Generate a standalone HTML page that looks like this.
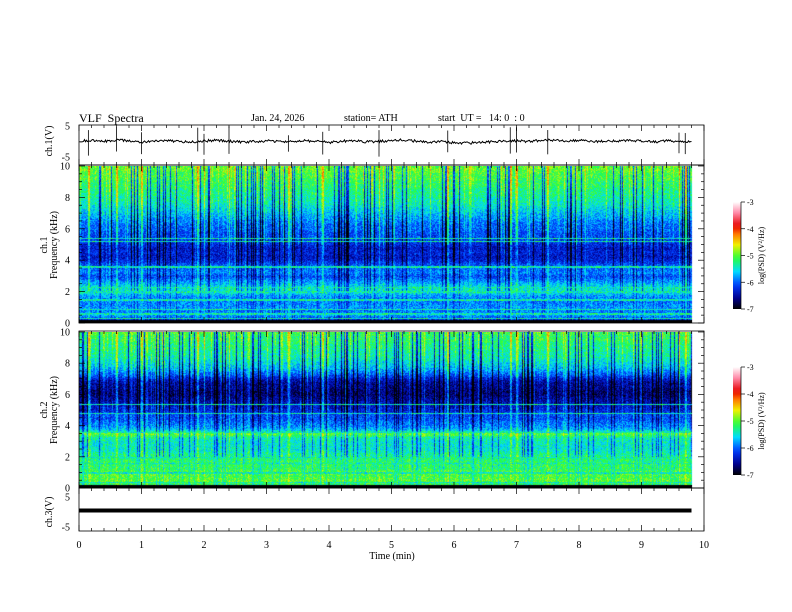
<!DOCTYPE html>
<html><head><meta charset="utf-8">
<style>
body{margin:0;background:#fff;width:792px;height:612px;overflow:hidden;position:relative;font-family:"Liberation Serif",serif;}
.t{position:absolute;font-size:10px;color:#000;white-space:nowrap;line-height:1;}
canvas{position:absolute;}
</style></head><body>
<div class="t" style="left:79px;top:112px;font-size:12px">VLF&nbsp; Spectra</div>
<div class="t" style="left:251px;top:114px">Jan. 24, 2026</div>
<div class="t" style="left:344px;top:114px">station= ATH</div>
<div class="t" style="left:438px;top:114px">start&nbsp; UT =&nbsp;&nbsp; 14: 0&nbsp;&nbsp;: 0</div>
<canvas id="spec1" width="626" height="157" style="left:79px;top:166px"></canvas>
<canvas id="spec2" width="626" height="156" style="left:79px;top:332px"></canvas>
<svg id="ov" width="792" height="612" style="position:absolute;left:0;top:0"></svg>
<script>
// ---- data ----
const timeTicks=[0,1,2,3,4,5,6,7,8,9,10];
const cbTicks=[-3,-4,-5,-6,-7];
const freqTicks=[0,2,4,6,8,10];
// mean log PSD by frequency (0..10 kHz, 0.25 kHz steps, 41 pts)
const profile1=[-7,-6.2,-5.8,-5.9,-5.8,-5.9,-5.9,-5.8,-5.5,-5.5,-5.7,-5.9,-6.1,-5.9,-6.0,-6.1,-6.3,-6.4,-6.3,-6.4,-6.3,-6.2,-6.1,-6.1,-6.0,-6.0,-5.9,-5.8,-5.7,-5.6,-5.5,-5.4,-5.4,-5.3,-5.3,-5.2,-5.2,-5.1,-5.1,-5.0,-5.0];
const profile2=[-7,-5.2,-5.0,-5.1,-5.0,-5.2,-5.2,-5.2,-5.3,-5.4,-5.5,-5.5,-5.5,-5.4,-5.0,-5.7,-5.9,-6.0,-6.1,-6.1,-6.3,-6.4,-6.5,-6.6,-6.7,-6.7,-6.6,-6.6,-6.4,-6.1,-5.9,-5.7,-5.6,-5.5,-5.4,-5.4,-5.3,-5.3,-5.2,-5.2,-5.1];
const lines1=[0.3,0.6,0.9,1.5,2.0,2.3,3.6,5.2,5.4];
const lines2=[0.4,1.0,1.6,2.0,3.6,4.8,5.4];
const sferics=[0.15,0.6,1.0,1.9,2.0,2.4,3.35,3.9,4.8,5.9,6.9,7.0,7.5,9.6,9.7];
const ch1Trace=[0.2,0.3,0.1,0.5,0.2,-0.2,0.1,0.3,0,-0.1,0.2,0.4,0.1,-0.2,0,0.2,-0.1,0.1,0.3,0,-0.3,0.1,0.2,-0.1,0,0.3,0.5,0.1,-0.2,0,-0.4,-0.5,-0.3,-0.1,0.1,0.2,0,0.3,0.5,0.2,0.4,0.1,0,0.2,0.3,0.1,-0.1,0.2,0.1,0];
const ch3Level=-1.5;
// ---- scales ----
const X0=79,X1=704,tEnd=9.8;
const xs=t=>X0+(X1-X0)*t/10;
function hash(a,b){let h=(a*374761393+b*668265263)|0;h=(h^(h>>>13))*1274126177|0;return ((h^(h>>>16))>>>0)/4294967295;}
function cmap(v){
  const stops=[[-7,0,0,0],[-6.6,0,0,140],[-6.1,0,60,255],[-5.6,0,220,255],[-5.1,40,255,60],[-4.6,240,240,0],[-4.2,255,120,0],[-3.9,230,0,0],[-3.4,255,140,170],[-3,255,255,255]];
  if(v<=-7)return[0,0,0];if(v>=-3)return[255,255,255];
  for(let i=1;i<stops.length;i++)if(v<=stops[i][0]){const a=stops[i-1],b=stops[i],f=(v-a[0])/(b[0]-a[0]);return[a[1]+f*(b[1]-a[1]),a[2]+f*(b[2]-a[2]),a[3]+f*(b[3]-a[3])];}
}
function drawSpec(id,prof,lines,seed){
  const c=document.getElementById(id),g=c.getContext('2d'),W=c.width,H=c.height;
  const img=g.createImageData(W,H);
  const colEff=[];
  for(let x=0;x<W;x++){const r=hash(x,seed);let e=0;if(r>0.75)e=0.5*hash(x,seed+7);else if(r<0.14)e=-1.0;
    const t=x/(X1-X0)*10;sferics.forEach(s=>{if(Math.abs(t-s)<0.015)e=0.7;});colEff.push(e);}
  for(let y=0;y<H;y++){const f=10*(1-y/H);const fi=f/0.25,i0=Math.min(39,Math.floor(fi)),fr=fi-i0;
    let base=prof[i0]*(1-fr)+prof[i0+1]*fr;
    let isLine=lines.some(l=>Math.abs(f-l)<0.04);
    const w=f>5?1:(f>2?0.6:0.3);
    for(let x=0;x<W;x++){const p=(y*W+x)*4;const t=x/(X1-X0)*10;
      if(t>tEnd){img.data[p+3]=0;continue;}
      let v=base+colEff[x]*w+(hash(x*3+y,y*7+seed)-0.5)*0.6;
      if(isLine)v=-5.4+(hash(x,y)-0.5)*0.8;
      if(f<0.25)v=-7;
      const col=cmap(v);img.data[p]=col[0];img.data[p+1]=col[1];img.data[p+2]=col[2];img.data[p+3]=255;}}
  g.putImageData(img,0,0);
}
drawSpec('spec1',profile1,lines1,11);
drawSpec('spec2',profile2,lines2,29);
// ---- svg overlay ----
const ns='http://www.w3.org/2000/svg',svg=document.getElementById('ov');
function el(tag,at,parent){const e=document.createElementNS(ns,tag);for(const k in at)e.setAttribute(k,at[k]);(parent||svg).appendChild(e);return e;}
function txt(x,y,s,at){const e=el('text',Object.assign({x:x,y:y,'font-family':'Liberation Serif, serif','font-size':10,fill:'#000'},at||{}));e.textContent=s;return e;}
[[125,165],[165,323],[331,488],[488,531]].forEach((b,i)=>{const r=el('rect',{x:X0,y:b[0],width:X1-X0,height:b[1]-b[0],fill:'none',stroke:'#000','stroke-width':0.8});

for(let k=0;k<=50;k++){const x=X0+(X1-X0)*k/50,L=k%5==0?6:3;el('line',{x1:x,x2:x,y1:b[0],y2:b[0]+L,stroke:'#000','stroke-width':0.7});el('line',{x1:x,x2:x,y1:b[1],y2:b[1]-L,stroke:'#000','stroke-width':0.7});}});
[[166,323],[332,488]].forEach(b=>{freqTicks.forEach(f=>{const y=b[1]-(b[1]-b[0])*f/10;txt(70,y+3.5,String(f),{'text-anchor':'end'});});
 for(let k=0;k<=20;k++){const y=b[1]-(b[1]-b[0])*k/20,L=k%4==0?6:3;el('line',{x1:X0,x2:X0+L,y1:y,y2:y,stroke:'#000','stroke-width':0.7});el('line',{x1:X1,x2:X1-L,y1:y,y2:y,stroke:'#000','stroke-width':0.7});}});
[[126,157],[497,527]].forEach(b=>{txt(70,b[0]+3.5,'5',{'text-anchor':'end'});txt(70,b[1]+3.5,'-5',{'text-anchor':'end'});});
const ys1=v=>141.5-v*3.1;
let d='';const N=ch1Trace.length;
for(let x=0;x<=612;x++){const t=x/(612)*(N-1);const i=Math.min(N-2,Math.floor(t)),fr=t-i;const v=ch1Trace[i]*(1-fr)+ch1Trace[i+1]*fr+(hash(x,5)-0.5)*0.8;d+=(x?'L':'M')+(X0+x+0.5)+','+ys1(v).toFixed(1);}
const tr=el('path',{d:d,fill:'none',stroke:'#000','stroke-width':1});

sferics.forEach(s=>{const l=el('line',{x1:xs(s),x2:xs(s),y1:ys1(2+hash(s*100,1)*3),y2:ys1(-3-hash(s*100,2)*2),stroke:'#000','stroke-width':0.8});
});
const ys3=v=>512-v*3;
const t3=el('line',{x1:X0,x2:xs(tEnd),y1:ys3(ch3Level)-6,y2:ys3(ch3Level)-6,stroke:'#000','stroke-width':4});

timeTicks.forEach(t=>{const e=txt(xs(t),548,String(t),{'text-anchor':'middle'});});
const xt=txt(392,559,'Time  (min)',{'text-anchor':'middle','xml:space':'preserve'});
function vt(x,y,s,name){const e=txt(x,y,s,{'text-anchor':'middle',transform:'rotate(-90 '+x+' '+y+')'});}
vt(52,141,'ch.1(V)','ch1-y-title');
vt(47,245,'ch.1','ch1-spec-y-title');vt(57,245,'Frequency (kHz)','ch1-freq-title');
vt(47,410,'ch.2','ch2-spec-y-title');vt(57,410,'Frequency (kHz)','ch2-freq-title');
vt(52,512,'ch.3(V)','ch3-y-title');
const defs=el('defs',{});const lg=el('linearGradient',{id:'cg',x1:0,y1:1,x2:0,y2:0},defs);
for(let k=0;k<=20;k++){const v=-7+4*k/20,c=cmap(v);el('stop',{offset:k/20,'stop-color':'rgb('+c.map(Math.round).join(',')+')'},lg);}
[[202,309],[367,475]].forEach((b,i)=>{const r=el('rect',{x:733,y:b[0],width:8,height:b[1]-b[0],fill:'url(#cg)'});

el('line',{x1:741,x2:741,y1:b[0],y2:b[1],stroke:'#000','stroke-width':0.7});
cbTicks.forEach(v=>{const y=b[1]-(b[1]-b[0])*(v+7)/4;el('line',{x1:741,x2:745,y1:y,y2:y,stroke:'#000','stroke-width':0.7});txt(747,y+3,String(v),{'font-size':8});});
const cy=(b[0]+b[1])/2;const e=txt(764,cy,'log(PSD) (V²/Hz)',{'text-anchor':'middle','font-size':8,transform:'rotate(-90 764 '+cy+')'});
});
</script>
</body></html>
